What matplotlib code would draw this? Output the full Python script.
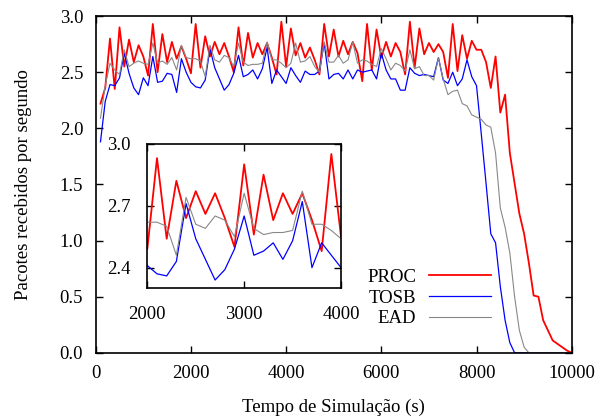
import matplotlib
matplotlib.use("Agg")
import matplotlib.pyplot as plt

plt.rcParams["font.family"] = ["Liberation Serif", "DejaVu Serif"]
plt.rcParams["font.size"] = 13.5

tempo = list(range(100, 10001, 100))

proc = [2.22, 2.36, 2.80, 2.35, 2.90, 2.55, 2.79, 2.59, 2.74, 2.64,
        2.47, 2.93, 2.50, 2.84, 2.59, 2.77, 2.62, 2.73, 2.62, 2.49,
        2.93, 2.54, 2.82, 2.64, 2.77, 2.66, 2.76, 2.64, 2.50, 2.90,
        2.56, 2.85, 2.63, 2.76, 2.66, 2.76, 2.63, 2.48, 2.95, 2.55,
        2.89, 2.65, 2.76, 2.63, 2.72, 2.61, 2.48, 2.93, 2.64, 2.88,
        2.64, 2.78, 2.66, 2.77, 2.67, 2.42, 2.93, 2.52, 2.88, 2.63,
        2.77, 2.64, 2.76, 2.68, 2.48, 2.95, 2.54, 2.89, 2.66, 2.76,
        2.68, 2.75, 2.68, 2.45, 2.93, 2.51, 2.83, 2.62, 2.78, 2.70,
        2.70, 2.59, 2.36, 2.64, 2.14, 2.30, 1.78, 1.51, 1.24, 1.06,
        0.80, 0.51, 0.50, 0.29, 0.20, 0.11, 0.08, 0.05, 0.02, 0.00]

tosb = [1.88, 2.24, 2.39, 2.38, 2.45, 2.67, 2.49, 2.36, 2.30, 2.45,
        2.38, 2.64, 2.41, 2.42, 2.49, 2.48, 2.32, 2.62, 2.50, 2.41,
        2.37, 2.36, 2.43, 2.71, 2.54, 2.44, 2.34, 2.39, 2.49, 2.65,
        2.46, 2.48, 2.52, 2.44, 2.53, 2.72, 2.40, 2.52, 2.46, 2.40,
        2.54, 2.47, 2.41, 2.51, 2.48, 2.48, 2.51, 2.76, 2.44, 2.48,
        2.49, 2.44, 2.52, 2.44, 2.52, 2.50, 2.51, 2.52, 2.44, 2.67,
        2.52, 2.44, 2.44, 2.34, 2.34, 2.54, 2.49, 2.47, 2.48, 2.47,
        2.46, 2.63, 2.43, 2.40, 2.50, 2.38, 2.44, 2.61, 2.46, 2.38,
        1.95, 1.51, 1.06, 0.98, 0.59, 0.29, 0.09, 0.00, 0.00, 0.00,
        0.00, 0.00, 0.00, 0.00, 0.00, 0.00, 0.00, 0.00, 0.00, 0.00]

ead = [2.09, 2.38, 2.58, 2.52, 2.48, 2.70, 2.55, 2.58, 2.60, 2.58,
       2.57, 2.76, 2.58, 2.60, 2.57, 2.63, 2.52, 2.74, 2.63, 2.62,
       2.62, 2.60, 2.46, 2.74, 2.61, 2.59, 2.65, 2.63, 2.55, 2.76,
       2.59, 2.56, 2.57, 2.57, 2.58, 2.77, 2.61, 2.61, 2.58, 2.54,
       2.58, 2.76, 2.59, 2.60, 2.64, 2.55, 2.50, 2.77, 2.59, 2.59,
       2.65, 2.58, 2.61, 2.77, 2.58, 2.61, 2.60, 2.57, 2.55, 2.71,
       2.62, 2.52, 2.58, 2.56, 2.51, 2.70, 2.53, 2.55, 2.47, 2.47,
       2.43, 2.63, 2.44, 2.30, 2.33, 2.34, 2.22, 2.20, 2.12, 2.10,
       2.08, 2.03, 2.01, 1.78, 1.29, 1.12, 0.89, 0.50, 0.20, 0.05,
       0.00, 0.00, 0.00, 0.00, 0.00, 0.00, 0.00, 0.00, 0.00, 0.00]

series = [("PROC", proc, "#ff0000", 1.3),
          ("TOSB", tosb, "#0000ff", 0.9),
          ("EAD", ead, "#888888", 0.8)]

fig = plt.figure(figsize=(6.02, 4.18), dpi=100)
ax = fig.add_axes([0.159, 0.156, 0.7907, 0.8055])

for nome, vals, cor, lw in series:
    ax.plot(tempo, vals, color=cor, lw=lw, label=nome)

ax.set_xlim(0, 10000)
ax.set_ylim(0, 3.0)
ax.set_xticks([0, 2000, 4000, 6000, 8000, 10000])
ax.set_yticks([0.0, 0.5, 1.0, 1.5, 2.0, 2.5, 3.0])
ax.set_yticklabels(["%.1f" % v for v in ax.get_yticks()])
ax.tick_params(direction="in", top=True, right=True, length=5, width=1, pad=9)
for s in ax.spines.values():
    s.set_linewidth(1.2)
ax.set_xlabel("Tempo de Simulação (s)", labelpad=12)
ax.set_ylabel("Pacotes recebidos por segundo", labelpad=20)

ax.legend(loc="upper right", bbox_to_anchor=(0.8305, 0.25), frameon=False,
          markerfirst=False, handlelength=3.3, handletextpad=0.7,
          labelspacing=0.2, borderpad=0, borderaxespad=0)

# inset com zoom em 2000-4000
ins = fig.add_axes([0.2447, 0.3103, 0.3218, 0.346])
for nome, vals, cor, lw in series:
    ins.plot(tempo, vals, color=cor, lw=lw)
ins.set_xlim(2000, 4000)
ins.set_ylim(2.3, 3.0)
ins.set_xticks([2000, 3000, 4000])
ins.set_yticks([2.4, 2.7, 3.0])
ins.set_yticklabels(["2.4", "2.7", "3.0"])
ins.tick_params(direction="in", top=True, right=True, length=5, width=1)
ins.tick_params(axis="x", pad=13)
ins.tick_params(axis="y", pad=12)
for s in ins.spines.values():
    s.set_linewidth(1.2)

fig.savefig("out.png", dpi=100)
